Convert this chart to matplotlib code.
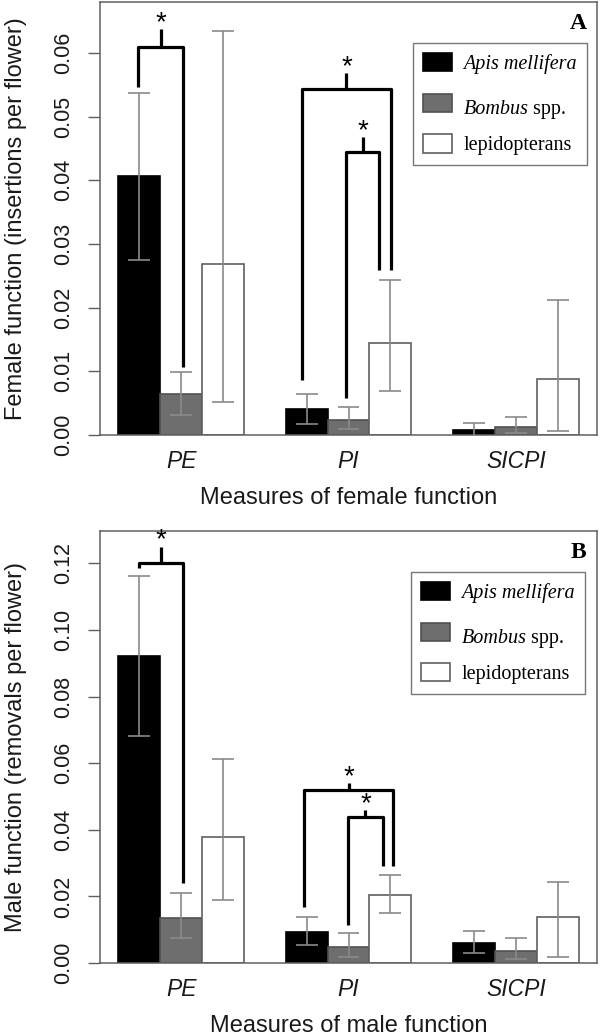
import matplotlib
matplotlib.use("Agg")
import matplotlib.pyplot as plt
import numpy as np
from matplotlib.patches import Patch

# ---------------- data ----------------
measures = ["PE", "PI", "SICPI"]
groups = ["Apis mellifera", "Bombus spp.", "lepidopterans"]

# Panel A: female function (insertions per flower)
female_mean = {
    "Apis mellifera": [0.0407, 0.0041, 0.0008],
    "Bombus spp.":    [0.0064, 0.0024, 0.0013],
    "lepidopterans":  [0.0268, 0.0145, 0.0088],
}
female_lo = {
    "Apis mellifera": [0.0275, 0.0017, -0.0005],
    "Bombus spp.":    [0.0031, 0.0009, 0.0003],
    "lepidopterans":  [0.0052, 0.0069, 0.0006],
}
female_hi = {
    "Apis mellifera": [0.0537, 0.0064, 0.0019],
    "Bombus spp.":    [0.0099, 0.0044, 0.0028],
    "lepidopterans":  [0.0634, 0.0243, 0.0212],
}

# Panel B: male function (removals per flower)
male_mean = {
    "Apis mellifera": [0.0922, 0.0093, 0.0060],
    "Bombus spp.":    [0.0135, 0.0048, 0.0036],
    "lepidopterans":  [0.0378, 0.0204, 0.0138],
}
male_lo = {
    "Apis mellifera": [0.0682, 0.0054, 0.0030],
    "Bombus spp.":    [0.0075, 0.0018, 0.0012],
    "lepidopterans":  [0.0189, 0.0150, 0.0018],
}
male_hi = {
    "Apis mellifera": [0.1162, 0.0138, 0.0096],
    "Bombus spp.":    [0.0210, 0.0090, 0.0075],
    "lepidopterans":  [0.0613, 0.0264, 0.0243],
}

# significance brackets: (x_left, x_right, y_left_end, y_right_end, y_bar, y_tick)
female_brackets = [
    (1.48, 2.55, 0.0546, 0.0107, 0.0609, 0.0637),
    (5.38, 7.52, 0.0086, 0.0259, 0.0543, 0.0568),
    (6.45, 7.24, 0.0058, 0.0259, 0.0444, 0.0468),
]
male_brackets = [
    (1.50, 2.55, 0.1186, 0.0240, 0.1201, 0.1250),
    (5.43, 7.57, 0.0168, 0.0290, 0.0520, 0.0540),
    (6.48, 7.33, 0.0114, 0.0290, 0.0438, 0.0460),
]

# ---------------- style ----------------
fills = {"Apis mellifera": "#000000", "Bombus spp.": "#6e6e6e", "lepidopterans": "#ffffff"}
edges = {"Apis mellifera": "#000000", "Bombus spp.": "#505050", "lepidopterans": "#606060"}
AXC = "#606060"
ERRC = "#8a8a8a"
TXC = "#1a1a1a"
SANS = ["Liberation Sans", "DejaVu Sans"]
SERIF = ["Liberation Serif", "DejaVu Serif"]
FS_LAB = 17
FS_XT = 16.5
FS_YT = 15.5
FS_LEG = 14.5

fig = plt.figure(figsize=(6.0, 10.36), dpi=100)
axA = fig.add_axes([100 / 600, 1 - 435 / 1036, 497 / 600, 433 / 1036])
axB = fig.add_axes([100 / 600, 1 - 963 / 1036, 497 / 600, 432 / 1036])


def draw(ax, mean, lo, hi, brackets, ylim, yticks, ylabel, xlabel, letter, leg_anchor):
    for gi, g in enumerate(groups):
        x = np.array([1 + 4 * mi + gi for mi in range(len(measures))], dtype=float)
        m = np.array(mean[g])
        ax.bar(x, m, width=1.0, align="edge", color=fills[g], edgecolor=edges[g],
               linewidth=1.2, zorder=2)
        xc = x + 0.5
        l = np.array(lo[g]); h = np.array(hi[g])
        ax.vlines(xc, l, h, color=ERRC, lw=1.2, zorder=3)
        ax.hlines(l, xc - 0.26, xc + 0.26, color=ERRC, lw=1.2, zorder=3)
        ax.hlines(h, xc - 0.26, xc + 0.26, color=ERRC, lw=1.2, zorder=3)

    for (xl, xr, yl, yr, yb, yt) in brackets:
        ax.plot([xl, xl, xr, xr], [yl, yb, yb, yr], color="black", lw=2.3,
                solid_joinstyle="round", solid_capstyle="butt", zorder=4)
        xm = (xl + xr) / 2
        ax.plot([xm, xm], [yb, yt], color="black", lw=2.3, solid_capstyle="butt", zorder=4)
        ax.annotate("*", (xm, yt), xytext=(0, -5), textcoords="offset points",
                    ha="center", va="bottom", fontsize=20, family=SANS)

    ax.set_xlim(0.56, 12.44)
    ax.set_ylim(*ylim)
    ax.set_yticks(yticks)
    ax.set_yticklabels([f"{t:.2f}" for t in yticks], family=SANS, fontsize=FS_YT,
                       rotation=90, va="center", color=TXC)
    ax.set_xticks([2.5 + 4 * i for i in range(len(measures))])
    ax.set_xticklabels(measures, family=SANS, fontsize=FS_XT, style="italic", color=TXC)
    ax.tick_params(axis="x", length=0, pad=11)
    ax.tick_params(axis="y", length=8.5, width=1, color=AXC, pad=10)
    for s in ax.spines.values():
        s.set_color(AXC)
        s.set_linewidth(1.1)
    ax.set_ylabel(ylabel, family=SANS, fontsize=FS_LAB, color=TXC)
    ax.yaxis.set_label_coords(-0.147, 0.5)
    ax.set_xlabel(xlabel, family=SANS, fontsize=FS_LAB, color=TXC, labelpad=10)

    handles = [Patch(facecolor=fills[g], edgecolor=edges[g], lw=1.2) for g in groups]
    leg = ax.legend(handles, groups, loc="upper right", bbox_to_anchor=leg_anchor,
                    borderaxespad=0, fancybox=False, frameon=True, framealpha=1,
                    prop={"family": SERIF, "size": FS_LEG},
                    handlelength=1.45, handleheight=1.0, handletextpad=0.55,
                    labelspacing=0.98, borderpad=0.5)
    leg.set_zorder(5)
    leg.get_frame().set_edgecolor("#777777")
    leg.get_frame().set_linewidth(1.0)
    texts = leg.get_texts()
    texts[0].set_style("italic")
    # "Bombus spp.": Bombus italic, spp. upright
    texts[1].set_text("")
    ax.figure.canvas.draw()
    bb = texts[1].get_window_extent()
    t0 = texts[0].get_window_extent()
    inv = ax.transAxes.inverted()
    x0, y0 = inv.transform((t0.x0, (bb.y0 + bb.y1) / 2))
    tb = ax.text(x0, y0, "Bombus", transform=ax.transAxes, family=SERIF, size=FS_LEG,
                 style="italic", va="center", ha="left", zorder=10)
    ax.figure.canvas.draw()
    e = tb.get_window_extent()
    x1, _ = inv.transform((e.x1, 0))
    ax.text(x1, y0, " spp.", transform=ax.transAxes, family=SERIF, size=FS_LEG,
            va="center", ha="left", zorder=10)

    ax.text(0.962, 0.951, letter, transform=ax.transAxes, family=SERIF, size=17,
            weight="bold", ha="center", va="center", zorder=10)


draw(axA, female_mean, female_lo, female_hi, female_brackets, (0, 0.068),
     [0.0, 0.01, 0.02, 0.03, 0.04, 0.05, 0.06],
     "Female function (insertions per flower)", "Measures of female function", "A",
     (0.980, 0.905))
draw(axB, male_mean, male_lo, male_hi, male_brackets, (0, 0.1297),
     [0.0, 0.02, 0.04, 0.06, 0.08, 0.10, 0.12],
     "Male function (removals per flower)", "Measures of male function", "B",
     (0.976, 0.905))

fig.savefig("out.png", dpi=100)
